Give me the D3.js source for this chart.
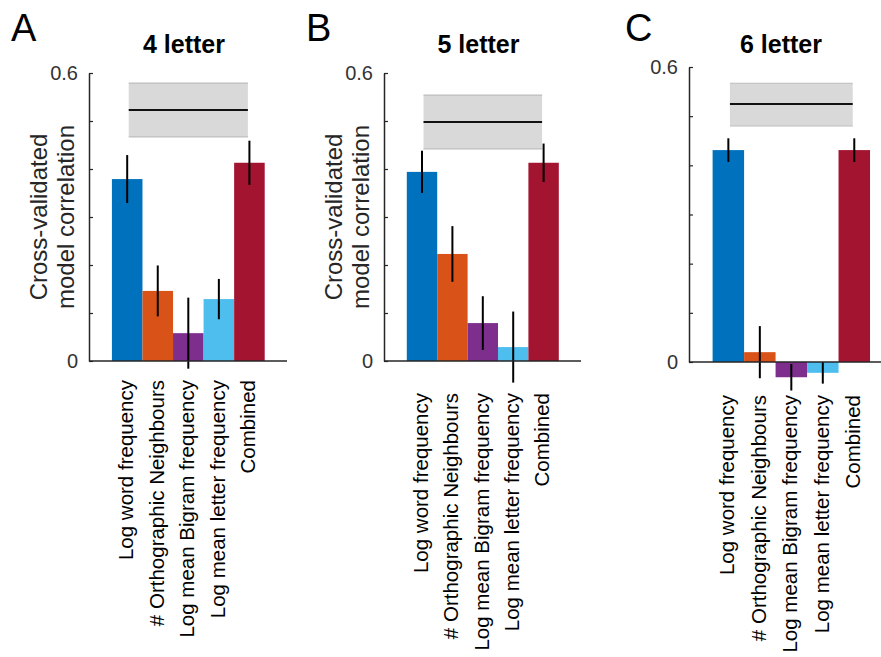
<!DOCTYPE html>
<html>
<head>
<meta charset="utf-8">
<script src="https://cdn.jsdelivr.net/npm/d3@7"></script>
<style>
  body { margin: 0; background: #fff; }
  svg { font-family: "Liberation Sans", Arial, Helvetica, sans-serif; }
</style>
</head>
<body>
<div id="chart"></div>
<script>
// data
const categories = ["Log word frequency", "# Orthographic Neighbours", "Log mean Bigram frequency", "Log mean letter frequency", "Combined"];
const titles = ["4 letter", "5 letter", "6 letter"];
const panelLetters = ["A", "B", "C"];

const means4 = [0.379, 0.146, 0.058, 0.129, 0.413];
const errs4 = [0.050, 0.053, 0.074, 0.042, 0.046];
const means5 = [0.394, 0.223, 0.079, 0.029, 0.413];
const errs5 = [0.044, 0.058, 0.056, 0.074, 0.040];
const means6 = [0.431, 0.020, -0.031, -0.022, 0.431];
const errs6 = [0.024, 0.053, 0.027, 0.022, 0.024];

// noise ceiling band (lower, mean, upper)
const ceilingLow = [0.467, 0.442, 0.480];
const ceilingMid = [0.523, 0.498, 0.525];
const ceilingHigh = [0.579, 0.554, 0.567];

const yTicks = [0, 0.1, 0.2, 0.3, 0.4, 0.5, 0.6];
const yTickLabels = ["0", "", "", "", "", "", "0.6"];

const colors = ["#0072BD", "#D95319", "#7E2F8E", "#4DBEEE", "#A2142F"];

const allMeans = [means4, means5, means6];
const allErrs = [errs4, errs5, errs6];

// layout of each axes box (pixels)
const layout = [
  {left: 89, right: 287, top: 73, bottom: 361, labelTop: 380, ylabel: true},
  {left: 384, right: 581, top: 73, bottom: 361, labelTop: 393, ylabel: true},
  {left: 689, right: 893, top: 67, bottom: 362, labelTop: 395, ylabel: false}
];

const axisColor = "#262626";

const svg = d3.select("#chart").append("svg")
  .attr("width", 881)
  .attr("height", 657);

layout.forEach((lay, p) => {
  var g = svg.append("g");
  var x = d3.scaleLinear().domain([-0.25, 6.23]).range([lay.left, lay.right]);
  var y = d3.scaleLinear().domain([0, 0.6]).range([lay.bottom, lay.top]);
  var bw = x(1) - x(0);

  var rows = categories.map((c, i) => ({cat: c, pos: i + 1, m: allMeans[p][i], e: allErrs[p][i], color: colors[i]}));

  // noise ceiling band
  g.append("rect")
    .attr("x", x(1.05))
    .attr("width", x(4.95) - x(1.05))
    .attr("y", y(ceilingHigh[p]))
    .attr("height", y(ceilingLow[p]) - y(ceilingHigh[p]))
    .attr("fill", "#d9d9d9");
  [ceilingLow[p], ceilingHigh[p]].forEach(v => {
    g.append("line")
      .attr("x1", x(1.05)).attr("x2", x(4.95))
      .attr("y1", y(v)).attr("y2", y(v))
      .attr("stroke", "#bdbdbd").attr("stroke-width", 1.2);
  });
  g.append("line")
    .attr("x1", x(1.05)).attr("x2", x(4.95))
    .attr("y1", y(ceilingMid[p])).attr("y2", y(ceilingMid[p]))
    .attr("stroke", "#111").attr("stroke-width", 2);

  // bars
  g.selectAll(".bar").data(rows).join("rect")
    .attr("class", "bar")
    .attr("x", d => x(d.pos) - bw / 2)
    .attr("width", bw)
    .attr("y", d => y(Math.max(0, d.m)))
    .attr("height", d => Math.abs(y(d.m) - y(0)))
    .attr("fill", d => d.color);

  // error bars
  g.selectAll(".err").data(rows).join("line")
    .attr("class", "err")
    .attr("x1", d => x(d.pos)).attr("x2", d => x(d.pos))
    .attr("y1", d => y(d.m - d.e)).attr("y2", d => y(d.m + d.e))
    .attr("stroke", "#000").attr("stroke-width", 2);

  // y axis
  var yAxis = d3.axisLeft(y)
    .tickValues(yTicks)
    .tickFormat((d, i) => yTickLabels[i])
    .tickSizeInner(-4)
    .tickSizeOuter(0)
    .tickPadding(11);
  var ya = g.append("g")
    .attr("transform", `translate(${lay.left},0)`)
    .call(yAxis);
  ya.select(".domain").attr("stroke", axisColor).attr("stroke-width", 1.5);
  ya.selectAll(".tick line").attr("stroke", axisColor).attr("stroke-width", 1.2);
  ya.selectAll(".tick text")
    .attr("fill", "#333")
    .style("font-size", "20px")
    .style("font-family", "'Liberation Sans', Arial, sans-serif");

  // x axis (no ticks, rotated labels)
  var xa = g.append("g").attr("transform", `translate(0,${lay.bottom})`);
  xa.append("line")
    .attr("x1", lay.left).attr("x2", lay.right)
    .attr("stroke", axisColor).attr("stroke-width", 1.5);
  xa.selectAll("text").data(rows).join("text")
    .attr("transform", d => `translate(${x(d.pos)},${lay.labelTop - lay.bottom}) rotate(-90)`)
    .attr("text-anchor", "end")
    .attr("dy", "0.28em")
    .attr("fill", "#000")
    .style("font-size", "20.5px")
    .text(d => d.cat);

  // title
  g.append("text")
    .attr("x", (lay.left + Math.min(lay.right, 881)) / 2 - 4)
    .attr("y", 53)
    .attr("text-anchor", "middle")
    .style("font-size", "25px")
    .style("font-weight", "bold")
    .text(titles[p]);

  // panel letter
  g.append("text")
    .attr("x", lay.left - 78 + (p === 2 ? 14 : 0))
    .attr("y", 41)
    .style("font-size", "38px")
    .text(panelLetters[p]);

  // y axis label
  if (lay.ylabel) {
    var yl = g.append("text")
      .attr("transform", `translate(${lay.left - 42},${(lay.top + lay.bottom) / 2}) rotate(-90)`)
      .attr("text-anchor", "middle")
      .attr("fill", "#262626")
      .style("font-size", "24px");
    yl.append("tspan").attr("x", 0).attr("dy", 0).text("Cross-validated");
    yl.append("tspan").attr("x", 0).attr("dy", 27).text("model correlation");
  }
});
</script>
</body>
</html>
